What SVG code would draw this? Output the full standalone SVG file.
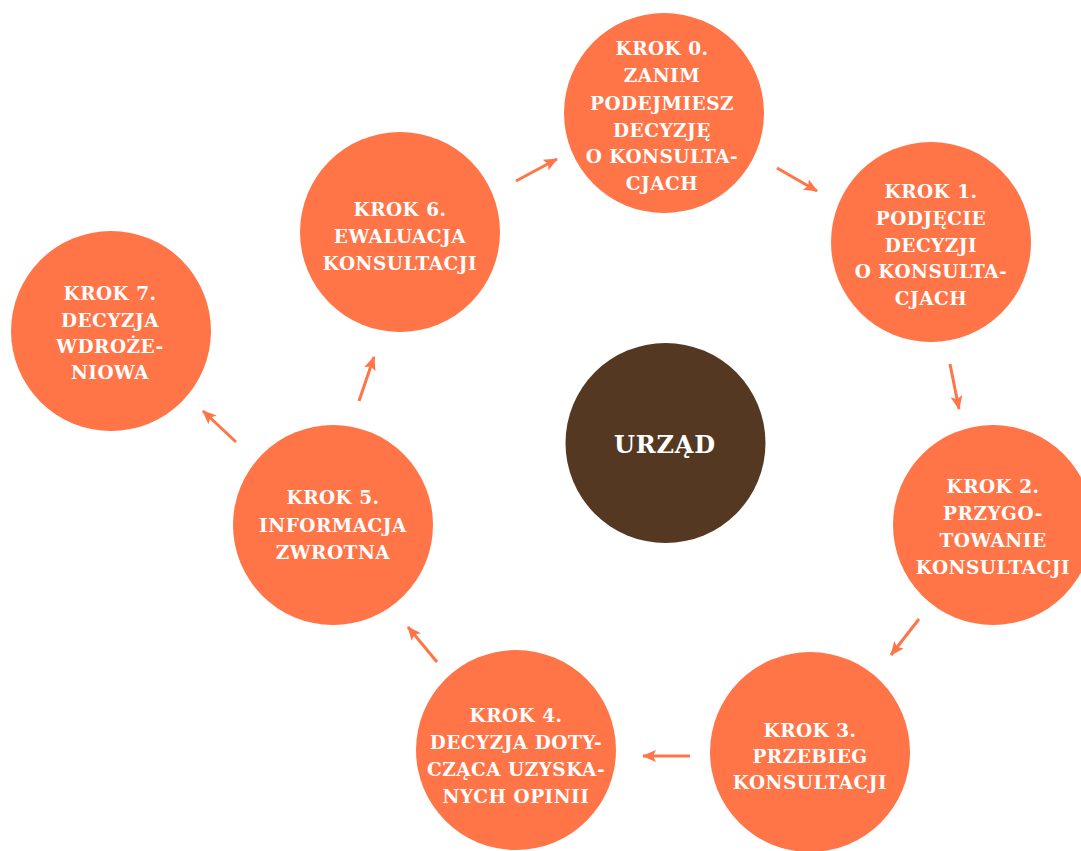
<svg xmlns="http://www.w3.org/2000/svg" width="1081" height="851" viewBox="0 0 1081 851">
<defs>
<style>
.step{fill:#FF7548}
.hub{fill:#553822}
.t{font-family:"DejaVu Serif","Liberation Serif",serif;font-weight:bold;font-size:18.5px;letter-spacing:0.5px;fill:#FFFFFF;text-anchor:middle}
.h{font-size:24px;letter-spacing:0.8px}
.c{stroke:#FF7548;stroke-width:3;fill:none;marker-end:url(#ah)}
</style>
<marker id="ah" viewBox="0 0 14 12" refX="13" refY="6" markerWidth="14" markerHeight="12" markerUnits="userSpaceOnUse" orient="auto">
<path d="M0,0 L14,6 L0,12 L3,6 Z" fill="#FF7548"/>
</marker>
</defs>
<rect width="1081" height="851" fill="#FFFFFF"/>
<g id="connectors">
<line class="c" x1="516" y1="181" x2="557" y2="159"/>
<line class="c" x1="777" y1="168" x2="817" y2="191"/>
<line class="c" x1="950" y1="364" x2="959" y2="409"/>
<line class="c" x1="919" y1="619" x2="891" y2="655"/>
<line class="c" x1="690" y1="756" x2="643" y2="756"/>
<line class="c" x1="437" y1="662" x2="408" y2="627"/>
<line class="c" x1="359" y1="401" x2="374" y2="357"/>
<line class="c" x1="236" y1="442" x2="203" y2="411"/>
</g>
<g id="urzad">
<circle class="hub" cx="665.5" cy="443" r="100"/>
<text class="t h" x="665" y="453">URZĄD</text>
</g>
<g id="krok0">
<circle class="step" cx="664" cy="113" r="100"/>
<text class="t" x="662" y="55">KROK 0.</text>
<text class="t" x="662" y="82">ZANIM</text>
<text class="t" x="662" y="110">PODEJMIESZ</text>
<text class="t" x="662" y="137">DECYZJĘ</text>
<text class="t" x="662" y="163">O KONSULTA-</text>
<text class="t" x="662" y="190">CJACH</text>
</g>
<g id="krok1">
<circle class="step" cx="931" cy="242" r="100"/>
<text class="t" x="931" y="198">KROK 1.</text>
<text class="t" x="931" y="225">PODJĘCIE</text>
<text class="t" x="931" y="252">DECYZJI</text>
<text class="t" x="931" y="278">O KONSULTA-</text>
<text class="t" x="931" y="305">CJACH</text>
</g>
<g id="krok2">
<circle class="step" cx="993" cy="525" r="100"/>
<text class="t" x="993" y="493">KROK 2.</text>
<text class="t" x="993" y="520">PRZYGO-</text>
<text class="t" x="993" y="547">TOWANIE</text>
<text class="t" x="993" y="574">KONSULTACJI</text>
</g>
<g id="krok3">
<circle class="step" cx="810" cy="752" r="100"/>
<text class="t" x="810" y="737">KROK 3.</text>
<text class="t" x="810" y="763">PRZEBIEG</text>
<text class="t" x="810" y="789">KONSULTACJI</text>
</g>
<g id="krok4">
<circle class="step" cx="516" cy="750" r="100"/>
<text class="t" x="516" y="722">KROK 4.</text>
<text class="t" x="516" y="749">DECYZJA DOTY-</text>
<text class="t" x="516" y="776">CZĄCA UZYSKA-</text>
<text class="t" x="516" y="803">NYCH OPINII</text>
</g>
<g id="krok5">
<circle class="step" cx="333" cy="525" r="100"/>
<text class="t" x="333" y="504">KROK 5.</text>
<text class="t" x="333" y="532">INFORMACJA</text>
<text class="t" x="333" y="559">ZWROTNA</text>
</g>
<g id="krok6">
<circle class="step" cx="400" cy="232" r="100"/>
<text class="t" x="400" y="216">KROK 6.</text>
<text class="t" x="400" y="243">EWALUACJA</text>
<text class="t" x="400" y="270">KONSULTACJI</text>
</g>
<g id="krok7">
<circle class="step" cx="111" cy="331" r="100"/>
<text class="t" x="110" y="300">KROK 7.</text>
<text class="t" x="110" y="327">DECYZJA</text>
<text class="t" x="110" y="353">WDROŻE-</text>
<text class="t" x="110" y="379">NIOWA</text>
</g>
</svg>
